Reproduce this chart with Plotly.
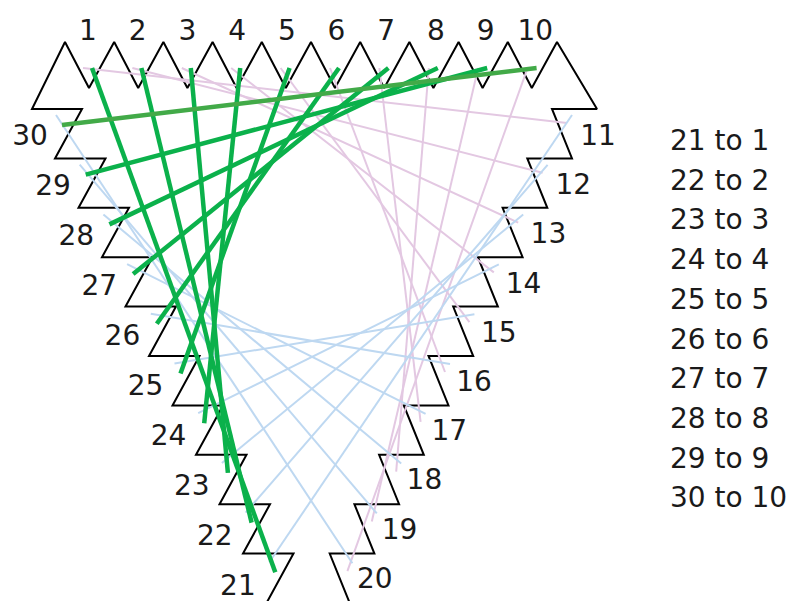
import plotly.graph_objects as go

# peg numbers on each side of the triangle
top_pegs = [1, 2, 3, 4, 5, 6, 7, 8, 9, 10]
right_pegs = [11, 12, 13, 14, 15, 16, 17, 18, 19, 20]
left_pegs = [21, 22, 23, 24, 25, 26, 27, 28, 29, 30]

# strings: (from, to)
green_from = [21, 22, 23, 24, 25, 26, 27, 28, 29, 30]
green_to = [1, 2, 3, 4, 5, 6, 7, 8, 9, 10]
pink_from = [1, 2, 3, 4, 5, 6, 7, 8, 9, 10]
pink_to = [11, 12, 13, 14, 15, 16, 17, 18, 19, 20]
blue_from = [11, 12, 13, 14, 15, 16, 17, 18, 19, 20]
blue_to = [21, 22, 23, 24, 25, 26, 27, 28, 29, 30]

legend_lines = [f"{a} to {b}" for a, b in zip(green_from, green_to)]

GREEN = "#0BB14B"
GREEN_LAST = "#42AA48"
PINK = "#E3C8E2"
BLUE = "#BED8F1"
FONT = "DejaVu Sans"


def peg_xy(n, shift=(0, 0)):
    if n <= 10:
        i = n - 1
        x, y = 92 + 49.4 * i, 68
    elif n <= 20:
        k = n - 11
        x, y = 572 - 24.4 * k, 115 + 49.8 * k
    else:
        k = 30 - n
        x, y = 62 + 23.7 * k, 125 + 49.7 * k
    return x + shift[0], y + shift[1]


def label_xy(n):
    if n <= 10:
        return 88 + 49.7 * (n - 1), 33
    if n <= 20:
        k = n - 11
        return 598 - 24.8 * k, 138 + 49.2 * k
    k = 30 - n
    return 30 + 23.1 * k, 138 + 50 * k


# sawtooth frame
def frame_points():
    pts = []
    right_t = [(552 - 24.7 * k, 109 + 49.4 * k) for k in range(10)]
    for k in range(9, -1, -1):
        tx, ty = right_t[k]
        pts.append((tx + 20, ty + 49.4))
        pts.append((tx, ty))
    pts.append((597, 109))
    for j in range(10, -1, -1):
        pts.append((65 + 49.2 * j, 42))
        if j > 0:
            pts.append((89 + 49.2 * (j - 1), 88))
    pts.append((32, 109))
    for k in range(10):
        tx, ty = 82 + 23.5 * k, 109 + 49.4 * k
        pts.append((tx, ty))
        pts.append((tx - 27, ty + 49.4))
    return pts


fig = go.Figure()

fp = frame_points()
fig.add_trace(go.Scatter(
    x=[p[0] for p in fp], y=[p[1] for p in fp],
    mode="lines", line=dict(color="black", width=2),
    hoverinfo="skip",
))

for a, b in zip(pink_from, pink_to):
    x0, y0 = peg_xy(a, (-9, 0))
    x1, y1 = peg_xy(b, (-5, 8))
    fig.add_trace(go.Scatter(x=[x0, x1], y=[y0, y1], mode="lines",
                             line=dict(color=PINK, width=2)))

for a, b in zip(blue_from, blue_to):
    x0, y0 = peg_xy(a)
    x1, y1 = peg_xy(b, (-6, -10))
    fig.add_trace(go.Scatter(x=[x0, x1], y=[y0, y1], mode="lines",
                             line=dict(color=BLUE, width=2)))

for a, b in zip(green_from, green_to):
    x0, y0 = peg_xy(a)
    x1, y1 = peg_xy(b)
    col = GREEN_LAST if a == 30 else GREEN
    fig.add_trace(go.Scatter(x=[x0, x1], y=[y0, y1], mode="lines",
                             line=dict(color=col, width=4.5)))

all_pegs = top_pegs + right_pegs + left_pegs
lx = [label_xy(n)[0] for n in all_pegs]
ly = [label_xy(n)[1] for n in all_pegs]
fig.add_trace(go.Scatter(
    x=lx, y=ly, mode="text", text=[str(n) for n in all_pegs],
    textposition="middle center",
    textfont=dict(family=FONT, size=28, color="#1a1a1a"),
))

fig.add_trace(go.Scatter(
    x=[670] * len(legend_lines),
    y=[143 + 39.7 * i for i in range(len(legend_lines))],
    mode="text", text=legend_lines, textposition="middle right",
    textfont=dict(family=FONT, size=28, color="#1a1a1a"),
))

fig.update_layout(
    width=803, height=601,
    margin=dict(l=0, r=0, t=0, b=0),
    plot_bgcolor="white", paper_bgcolor="white",
    showlegend=False,
    hovermode=False,
    xaxis=dict(range=[0, 803], visible=False, fixedrange=True),
    yaxis=dict(range=[601, 0], visible=False, fixedrange=True),
)

fig.write_html("out.html", config={"displayModeBar": False},
               post_script="document.body.style.margin='0';")
